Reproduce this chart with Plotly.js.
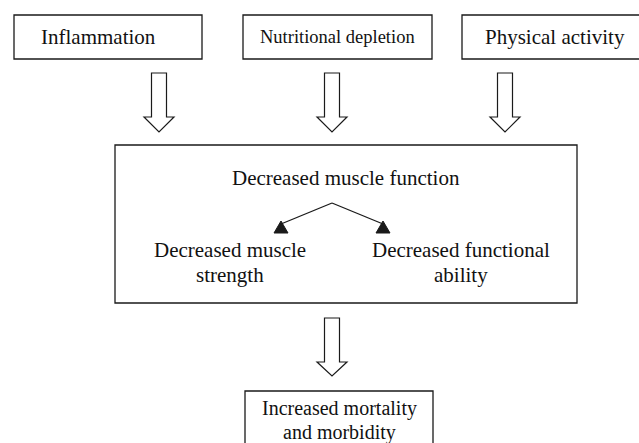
<!DOCTYPE html>
<html>
<head>
<meta charset="utf-8">
<script src="https://cdn.plot.ly/plotly-3.0.1.min.js"></script>
<style>html,body{margin:0;padding:0;background:#fff;}#chart{width:639px;height:443px;}</style>
</head>
<body>
<div id="chart"></div>
<script>
// ---- content (text) ----
const causeLabels = ['Inflammation', 'Nutritional depletion', 'Physical activity'];
const centralLabel = 'Decreased muscle function';
const componentLine1 = ['Decreased muscle', 'Decreased functional'];
const componentLine2 = ['strength', 'ability'];
const outcomeLines = ['Increased mortality', 'and morbidity'];

// ---- layout geometry (pixel coordinates, y downward) ----
const causeBoxes = [[14, 15, 202, 59], [243, 15, 432, 59], [462, 15, 652, 59]];
const causeTextX = [98, 337, 555];
const causeTextSize = [21, 18.5, 21];
const causeArrowX = [159, 332, 505];
const centralBox = [115, 145, 577, 303];
const componentTextX = [230, 461];
const componentTipX = [281, 383];
const outcomeBox = [245, 391, 433, 470];

const INK = '#1a1a1a';
const FONT = 'Liberation Serif, Times New Roman, serif';

function rect(b) {
  return {type: 'rect', xref: 'x', yref: 'y', x0: b[0], y0: b[1], x1: b[2], y1: b[3],
          line: {color: INK, width: 1.3}, fillcolor: 'rgba(0,0,0,0)'};
}
function blockArrow(cx, yTop, yBase, yTip) {
  const s = 7.5, h = 15;
  const p = `M ${cx - s},${yTop} L ${cx + s},${yTop} L ${cx + s},${yBase} L ${cx + h},${yBase} ` +
            `L ${cx},${yTip} L ${cx - h},${yBase} L ${cx - s},${yBase} Z`;
  return {type: 'path', xref: 'x', yref: 'y', path: p, line: {color: INK, width: 1.2}, fillcolor: '#ffffff'};
}
function label(text, x, y, size) {
  return {text: text, x: x, y: y, xref: 'x', yref: 'y', showarrow: false,
          xanchor: 'center', yanchor: 'middle', font: {family: FONT, size: size, color: '#111'}};
}

const shapes = [];
const annotations = [];

causeLabels.forEach((t, i) => {
  shapes.push(rect(causeBoxes[i]));
  annotations.push(label(t, causeTextX[i], 37, causeTextSize[i]));
  shapes.push(blockArrow(causeArrowX[i], 73, 117, 132));
});

shapes.push(rect(centralBox));
annotations.push(label(centralLabel, 346, 178, 21));

// fork
const apex = [332, 203];
componentTipX.forEach((tx) => {
  shapes.push({type: 'line', xref: 'x', yref: 'y', x0: apex[0], y0: apex[1], x1: tx, y1: 224,
               line: {color: INK, width: 1.3}});
  shapes.push({type: 'path', xref: 'x', yref: 'y',
               path: `M ${tx},${221} L ${tx + 7},${233} L ${tx - 7},${233} Z`,
               line: {color: INK, width: 1}, fillcolor: INK});
});
componentLine1.forEach((t, i) => {
  annotations.push(label(t, componentTextX[i], 250, 21));
  annotations.push(label(componentLine2[i], componentTextX[i], 275, 21));
});

shapes.push(blockArrow(332, 318, 362, 376));
shapes.push(rect(outcomeBox));
outcomeLines.forEach((t, i) => annotations.push(label(t, 339, 408 + i * 24, 20)));

const layout = {
  width: 639, height: 443,
  margin: {l: 0, r: 0, t: 0, b: 0, pad: 0},
  paper_bgcolor: '#fff', plot_bgcolor: '#fff',
  xaxis: {range: [0, 639], visible: false, fixedrange: true},
  yaxis: {range: [443, 0], visible: false, fixedrange: true},
  showlegend: false,
  shapes: shapes,
  annotations: annotations
};

Plotly.newPlot('chart', [{x: [], y: [], type: 'scatter', mode: 'markers', hoverinfo: 'skip'}], layout,
               {staticPlot: true, displayModeBar: false});
</script>
</body>
</html>
